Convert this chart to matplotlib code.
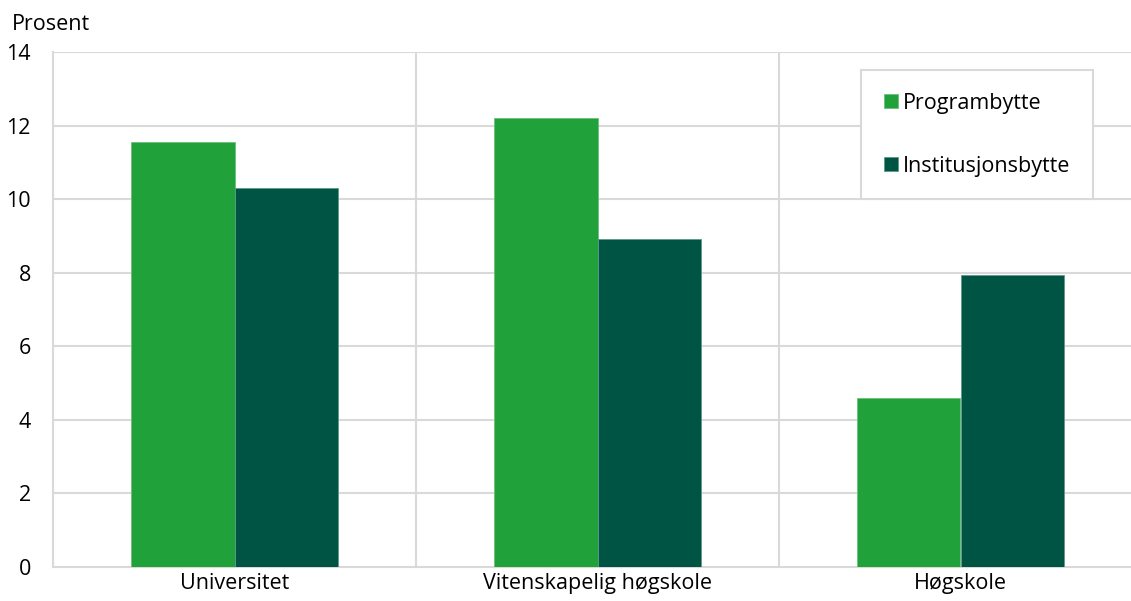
import numpy as np
import matplotlib.pyplot as plt

plt.rcParams['font.family'] = ['Open Sans', 'DejaVu Sans']

categories = ["Universitet", "Vitenskapelig høgskole", "Høgskole"]
programbytte = [11.55, 12.2, 4.59]
institusjonsbytte = [10.3, 8.91, 7.93]

green = "#21a139"
dark = "#005444"
grid = "#d9d9d9"
fs = 15.5

fig = plt.figure(figsize=(11.31, 6.01), dpi=100)
ax = fig.add_axes([53 / 1131, 34 / 601, 1089 / 1131, 515 / 601])

x = np.arange(len(categories))
w = 0.2865
ax.bar(x - w / 2, programbytte, w, color=green, edgecolor="#6cc07e", linewidth=0.6,
       label="Programbytte", zorder=3)
ax.bar(x + w / 2, institusjonsbytte, w, color=dark, edgecolor="#5c9a8c", linewidth=0.6,
       label="Institusjonsbytte", zorder=3)

ax.set_xlim(-0.5, 2.5)
ax.set_ylim(0, 14)
ax.set_yticks(range(0, 15, 2))
ax.set_xticks(x)
ax.set_xticklabels(categories)
ax.tick_params(length=0, labelsize=fs, colors="black")
ax.tick_params(axis='y', pad=16)
ax.tick_params(axis='x', pad=4)

for y in range(2, 15, 2):
    ax.axhline(y, color=grid, linewidth=1.5, zorder=1)
for xv in [0.5, 1.5]:
    ax.axvline(xv, color=grid, linewidth=1.5, zorder=1)

for s in ["top", "right"]:
    ax.spines[s].set_visible(False)
ax.spines["left"].set_color(grid)
ax.spines["left"].set_linewidth(1.5)
ax.spines["bottom"].set_color(grid)
ax.spines["bottom"].set_linewidth(1.5)

fig.text(12 / 1131, 1 - 24 / 601, "Prosent", fontsize=fs, va="center", ha="left")

leg = ax.legend(loc="upper left", bbox_to_anchor=(861 / 1131, 1 - 70 / 601),
                bbox_transform=fig.transFigure, fontsize=fs, frameon=True,
                fancybox=False, edgecolor=grid, framealpha=1,
                handlelength=0.65, handleheight=0.65, handletextpad=0.25,
                labelspacing=1.95, borderpad=1.05, borderaxespad=0)
leg.get_frame().set_linewidth(1.5)
leg.set_zorder(10)

fig.savefig("out.png", dpi=100)
